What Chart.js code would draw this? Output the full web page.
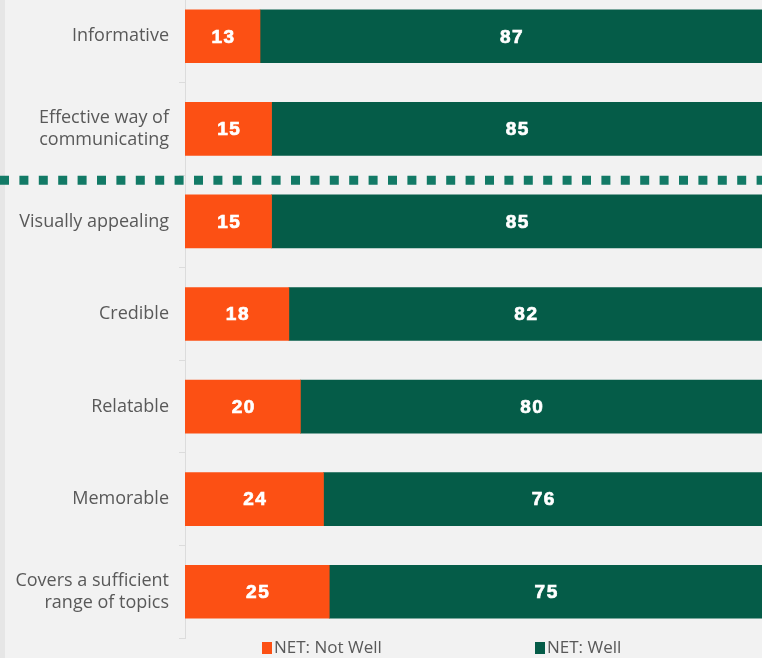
<!DOCTYPE html>
<html>
<head>
<meta charset="utf-8">
<script src="https://cdn.jsdelivr.net/npm/chart.js@4.4.1/dist/chart.umd.min.js"></script>
<style>
  html, body { margin: 0; padding: 0; }
  body {
    width: 762px; height: 658px; overflow: hidden; position: relative;
    background: linear-gradient(to right, #e6e6e6 0 5px, #f2f2f2 5px);
    font-family: "Open Sans", sans-serif;
  }
  #wrap { position: absolute; left: 0; top: -10px; width: 762px; height: 668px; }
  .legend { position: absolute; top: 636px; font-size: 17px; line-height: 22px; color: #595959; white-space: nowrap; }
  .legend span.box { display: inline-block; width: 10px; height: 12px; margin-right: 2px; vertical-align: -1px; }
</style>
</head>
<body>
<div id="wrap"><canvas id="chart"></canvas></div>
<div class="legend" style="left:262px"><span class="box" style="background:#fc5014"></span>NET: Not Well</div>
<div class="legend" style="left:535px"><span class="box" style="background:#055c48"></span>NET: Well</div>
<script>
// categories and values
const categories = [
    'Informative',
    ['Effective way of', 'communicating'],
    'Visually appealing',
    'Credible',
    'Relatable',
    'Memorable',
    ['Covers a sufficient', 'range of topics']
];
const notWell = [13, 15, 15, 18, 20, 24, 25];
const well = [87, 85, 85, 82, 80, 76, 75];
const seriesNames = ['NET: Not Well', 'NET: Well'];

const orange = '#fc5014';
const green = '#055c48';

// white numbers in the middle of each segment
const barLabels = {
    id: 'barLabels',
    afterDatasetsDraw(chart) {
        const ctx = chart.ctx;
        ctx.save();
        ctx.fillStyle = '#ffffff';
        ctx.strokeStyle = '#ffffff';
        ctx.lineWidth = 0.7;
        ctx.font = 'bold 19px "Liberation Sans", Arial, sans-serif';
        ctx.letterSpacing = '1.5px';
        ctx.textAlign = 'center';
        ctx.textBaseline = 'middle';
        chart.data.datasets.forEach((ds, i) => {
            chart.getDatasetMeta(i).data.forEach((bar, j) => {
                const x = (bar.x + bar.base) / 2 + 1;
                ctx.fillText(ds.data[j], x, bar.y + 1);
                ctx.strokeText(ds.data[j], x, bar.y + 1);
            });
        });
        ctx.restore();
    }
};

// dotted separator between the first two rows and the rest
const separator = {
    id: 'separator',
    afterDraw(chart) {
        const y = chart.scales.y;
        const py = (y.getPixelForValue(1) + y.getPixelForValue(2)) / 2 + 5;
        const ctx = chart.ctx;
        ctx.save();
        ctx.strokeStyle = '#127a66';
        ctx.lineWidth = 9;
        ctx.setLineDash([9, 10.4]);
        ctx.beginPath();
        ctx.moveTo(0, py);
        ctx.lineTo(chart.width, py);
        ctx.stroke();
        ctx.restore();
    }
};

new Chart(document.getElementById('chart'), {
    type: 'bar',
    data: {
        labels: categories,
        datasets: [
            { label: seriesNames[0], data: notWell, backgroundColor: orange, barThickness: 53 },
            { label: seriesNames[1], data: well, backgroundColor: green, barThickness: 53 }
        ]
    },
    options: {
        indexAxis: 'y',
        responsive: true,
        maintainAspectRatio: false,
        animation: false,
        layout: { padding: { top: 0, right: 0, bottom: 20, left: 0 } },
        scales: {
            x: { display: false, stacked: true, min: 0, max: 100 },
            y: {
                stacked: true,
                afterFit(scale) {
                    scale.width = 185;
                    scale.paddingTop = 0;
                    scale.paddingBottom = 0;
                },
                border: { color: '#dcdcdc', width: 1 },
                grid: { drawOnChartArea: false, color: '#dcdcdc', tickLength: 6 },
                ticks: {
                    color: '#595959',
                    padding: 10,
                    font: { family: '"Open Sans"', size: 18, lineHeight: 1.22 }
                }
            }
        },
        plugins: {
            legend: { display: false },
            tooltip: { enabled: false }
        }
    },
    plugins: [barLabels, separator]
});
</script>
</body>
</html>
